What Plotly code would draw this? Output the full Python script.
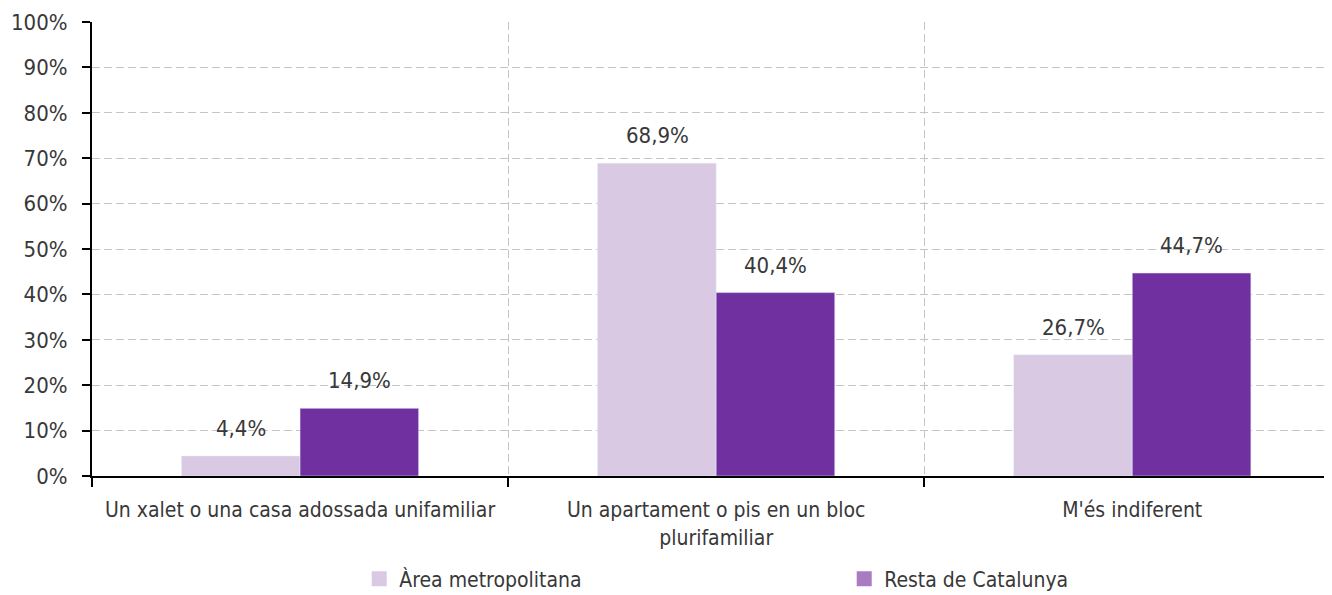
import plotly.graph_objects as go

categories = [
    "Un xalet o una casa adossada unifamiliar",
    "Un apartament o pis en un bloc<br>plurifamiliar",
    "M'és indiferent",
]
series_names = ["Àrea metropolitana", "Resta de Catalunya"]
area_metro = [4.4, 68.9, 26.7]
resta_cat = [14.9, 40.4, 44.7]

BAR_COLORS = ["#d9c9e3", "#7030a0"]
LEGEND_COLORS = ["#d9c9e3", "#a97bc0"]
FONT = "Liberation Sans Narrow, DejaVu Sans Condensed, Arial Narrow, sans-serif"
TEXT = "#383838"
GRID = "#c4c4c4"

fig = go.Figure()
for name, vals, col in zip(series_names, [area_metro, resta_cat], BAR_COLORS):
    fig.add_trace(go.Bar(x=categories, y=vals, name=name, marker_color=col, showlegend=False))

# value labels sit a little above each bar, bars are ~118 px wide
for vals, shift in [(area_metro, -59), (resta_cat, 59)]:
    for cat, v in zip(categories, vals):
        fig.add_annotation(
            x=cat, y=v, text=f"{v:.1f}%".replace(".", ","),
            xshift=shift, yshift=13, yanchor="bottom", showarrow=False,
            font=dict(size=22, color=TEXT),
        )

# legend swatches (the legend uses a lighter tone than the bars)
for name, col in zip(series_names, LEGEND_COLORS):
    fig.add_trace(go.Scatter(
        x=[None], y=[None], mode="markers", name=name,
        marker=dict(symbol="square", size=15, color=col),
    ))

# the page body adds an 8 px offset, so the figure is drawn 8 px smaller
fig.update_layout(
    width=1324, height=587,
    margin=dict(l=84, r=0, t=14, b=119),
    barmode="group", bargap=0.43, bargroupgap=0,
    plot_bgcolor="white", paper_bgcolor="white",
    font=dict(family=FONT, size=21, color=TEXT),
    legend=dict(orientation="h", x=0.2155, xanchor="left",
                yref="container", y=0.027, yanchor="middle",
                entrywidth=440, entrywidthmode="pixels",
                font=dict(size=21, color=TEXT), itemwidth=30),
)
fig.update_xaxes(
    range=[-0.5, 2.48], tickson="boundaries", automargin=False,
    showgrid=True, gridcolor=GRID, griddash="8px,4px", gridwidth=1,
    showline=True, linecolor="black", linewidth=2,
    ticks="outside", ticklen=9, tickwidth=2, tickcolor="black",
    tickfont=dict(size=21, color=TEXT), ticklabelstandoff=14,
)
fig.update_yaxes(
    range=[0, 100], dtick=10, ticksuffix="%", automargin=False,
    showgrid=True, gridcolor=GRID, griddash="8px,4px", gridwidth=1,
    showline=True, linecolor="black", linewidth=2,
    ticks="outside", ticklen=8, tickwidth=2, tickcolor="black",
    tickfont=dict(size=22, color=TEXT), ticklabelstandoff=10,
    zeroline=False,
)

fig.write_html("out.html")
